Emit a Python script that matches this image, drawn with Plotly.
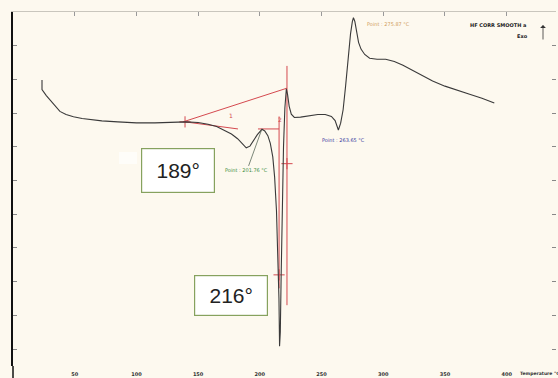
import plotly.graph_objects as go

# DSC heat-flow trace (temperature in °C, heat flow in arbitrary units, exo up)
temperature = [23.5, 23.5, 27, 31, 35, 38, 43, 49, 56, 64, 72, 85, 100, 115, 130, 140,
               150, 158, 165, 171, 177, 182, 186, 189, 192, 195, 198, 201.76, 204,
               206.5, 208.5, 210.5, 212, 213.5, 214.8, 215.5, 216, 216.6, 217.3,
               218.2, 219.2, 220.3, 221.5, 222.5, 223.8, 225.5, 228, 233, 240, 247,
               253, 258, 261, 263.65, 265.5, 267.5, 269.5, 271.5, 273.5, 275, 275.87,
               277, 278.5, 280, 282, 285, 289, 295, 302, 309, 316, 324, 332, 340,
               350, 360, 370, 380, 390]
heat_flow = [7.98, 7.70, 7.52, 7.36, 7.20, 7.05, 6.96, 6.89, 6.84, 6.80, 6.77, 6.74,
             6.71, 6.71, 6.73, 6.74, 6.72, 6.67, 6.60, 6.50, 6.38, 6.24, 6.10, 5.97,
             6.02, 6.18, 6.36, 6.52, 6.47, 6.33, 6.10, 5.70, 5.10, 4.10, 2.80, 1.50,
             0.08, 0.50, 2.20, 4.20, 6.00, 7.15, 7.72, 7.55, 7.20, 6.97, 6.87, 6.88,
             6.93, 6.96, 6.96, 6.90, 6.78, 6.50, 6.70, 7.10, 7.80, 8.60, 9.35, 9.72,
             9.83, 9.72, 9.40, 9.10, 8.90, 8.74, 8.63, 8.60, 8.60, 8.53, 8.42, 8.26,
             8.10, 7.95, 7.80, 7.67, 7.56, 7.44, 7.30]

# Tangent / onset construction lines (temperature, heat flow pairs)
onset_upper_t = [137.8, 222.0]
onset_upper_hf = [6.74, 7.74]
onset_tangent_t = [139.4, 182.3]
onset_tangent_hf = [6.74, 6.53]
peak_level_t = [198.5, 215.6]
peak_level_hf = [6.53, 6.53]
drop_line_a_t = [215.6, 215.6]
drop_line_a_hf = [6.90, 1.80]
drop_line_b_t = [222.0, 222.0]
drop_line_b_hf = [8.40, 1.30]
marker_t = [139.4, 215.6, 222.0]
marker_hf = [6.74, 2.20, 5.50]

x_ticks = [50, 100, 150, 200, 250, 300, 350, 400]
x_tick_text = ["50", "100", "150", "200", "250", "300", "350", "400"]

bg = "#fdf9ef"
red = "#d4494f"
plot_w, plot_h = 543, 354   # inner plot size in px (used for paper-anchored items)


def px_to_paper(px, py):
    return (px - 13) / plot_w, 1 - (py - 12) / plot_h


fig = go.Figure()

for tx, hy in [(onset_upper_t, onset_upper_hf), (onset_tangent_t, onset_tangent_hf),
               (peak_level_t, peak_level_hf), (drop_line_a_t, drop_line_a_hf),
               (drop_line_b_t, drop_line_b_hf)]:
    fig.add_trace(go.Scatter(x=tx, y=hy, mode="lines",
                             line=dict(color=red, width=1), hoverinfo="skip"))

fig.add_trace(go.Scatter(x=marker_t, y=marker_hf, mode="markers",
                         marker=dict(symbol="cross-thin", size=8,
                                     line=dict(color=red, width=1)),
                         hoverinfo="skip"))

fig.add_trace(go.Scatter(x=temperature, y=heat_flow, mode="lines",
                         line=dict(color="#3a3a3a", width=1.1)))

# secondary axes carry the mirrored tick marks on the top and right edges
fig.add_trace(go.Scatter(x=[None], y=[None], xaxis="x2", yaxis="y2", showlegend=False))

small = dict(family="DejaVu Sans", size=5)
hdr = dict(family="DejaVu Sans", size=5, color="#222")

hx, hy_ = px_to_paper(529, 20)
ex, ey = px_to_paper(530, 31)
arx, ary = px_to_paper(543, 25)
tx_, ty_ = px_to_paper(518, 373)

annotations = [
    dict(x=177.0, y=6.93, text="1", showarrow=False,
         font=dict(family="DejaVu Sans", size=6, color=red)),
    dict(x=216.0, y=6.80, text="2", showarrow=False,
         font=dict(family="DejaVu Sans", size=6, color=red)),
    dict(x=201.2, y=6.48, ax=189.6, ay=5.30, axref="x", ayref="y",
         text="Point : 201.76 °C", showarrow=True, arrowhead=0,
         arrowwidth=0.8, arrowcolor="#5a6a5a", font=dict(small, color="#3c8c3c")),
    dict(x=267.5, y=6.20, text="Point : 263.65 °C", showarrow=False,
         font=dict(small, color="#3a3aa0")),
    dict(x=304, y=9.65, text="Point : 275.87 °C", showarrow=False,
         font=dict(small, color="#d09a5a")),
    dict(x=hx, y=hy_, xref="paper", yref="paper", text="<b>HF CORR SMOOTH a</b>",
         showarrow=False, font=hdr),
    dict(x=ex, y=ey, xref="paper", yref="paper", text="<b>Exo</b>",
         showarrow=False, font=hdr),
    dict(x=arx, y=ary, xref="paper", yref="paper", ax=0, ay=16, text="",
         showarrow=True, arrowhead=1, arrowsize=1.2, arrowwidth=0.8, arrowcolor="#333"),
    dict(x=tx_, y=ty_, xref="paper", yref="paper", text="<b>Temperature °C</b>",
         showarrow=False, xanchor="left", yanchor="middle",
         font=dict(family="DejaVu Sans", size=4.5, color="#333")),
    dict(x=133.3, y=5.30, text="189°", showarrow=False, width=70, height=41,
         bgcolor="white", bordercolor="#86a25e", borderwidth=1.2,
         font=dict(family="Liberation Sans", size=21, color="#222")),
    dict(x=177.0, y=1.60, text="216°", showarrow=False, width=70, height=37,
         bgcolor="white", bordercolor="#86a25e", borderwidth=1.2,
         font=dict(family="Liberation Sans", size=21, color="#222")),
]

# faint white smudge beside the first label box
wx0, wy1 = px_to_paper(119, 152)
wx1, wy0 = px_to_paper(137, 164)
# left axis line continues down to the page edge
lx, ly0 = px_to_paper(13, 378)
shapes = [dict(type="rect", xref="paper", yref="paper", x0=wx0, x1=wx1, y0=wy0, y1=wy1,
               fillcolor="white", opacity=0.6, line=dict(width=0), layer="below"),
          dict(type="line", xref="paper", yref="paper", x0=lx, x1=lx, y0=ly0, y1=0,
               line=dict(color="#111", width=1.5))]

fig.update_layout(
    width=558, height=378,
    margin=dict(l=13, r=2, t=12, b=12),
    paper_bgcolor=bg, plot_bgcolor=bg,
    showlegend=False,
    annotations=annotations,
    shapes=shapes,
    xaxis=dict(range=[0, 440], tickvals=x_ticks, ticktext=x_tick_text, ticks="outside",
               ticklen=3, tickcolor=bg, showgrid=False, zeroline=False, showline=False,
               tickfont=dict(family="DejaVu Sans", size=5, color="#333", weight="bold")),
    xaxis2=dict(range=[0, 440], overlaying="x", side="top", tickvals=x_ticks,
                showticklabels=False, ticks="inside", ticklen=4, tickcolor="#999",
                showline=True, linecolor="#c9c6bd", linewidth=1, showgrid=False,
                zeroline=False),
    yaxis=dict(range=[-0.504, 10.0], dtick=1, tick0=0, ticks="inside", ticklen=4,
               tickcolor="#888", showticklabels=False, showgrid=False, zeroline=False,
               showline=True, linecolor="#111", linewidth=1.5),
    yaxis2=dict(range=[-0.504, 10.0], overlaying="y", side="right", dtick=1, tick0=0,
                ticks="inside", ticklen=4, tickcolor="#888", showticklabels=False,
                showgrid=False, zeroline=False, showline=False),
)

fig.write_html("out.html")
